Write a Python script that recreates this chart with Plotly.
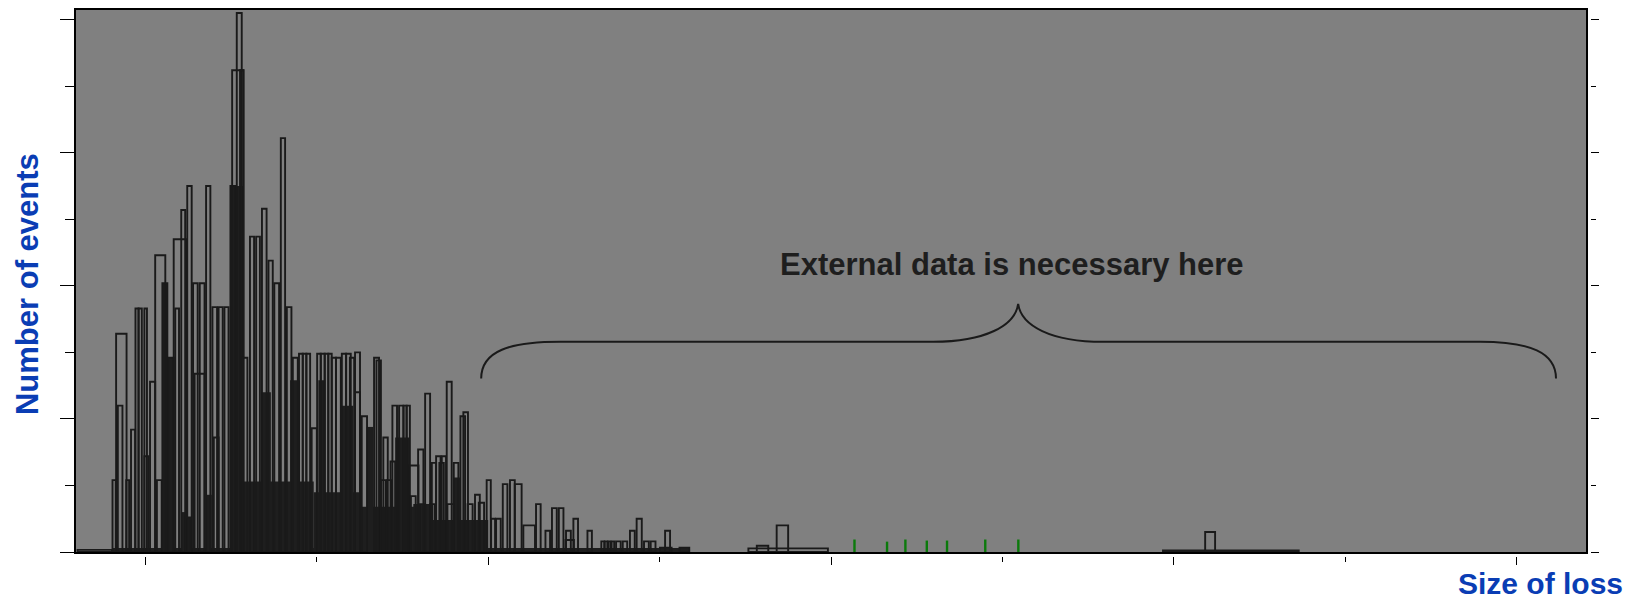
import plotly.graph_objects as go

# ---- data (loss size in arbitrary units, counts of events) ----
outline_left = [-39.6, -19.2, -17.1, -16.1, -11.2, -8.4, -5.8, -4.0, -0.6, -0.6, 2.7, 5.7, 6.7, 9.9,
                13.4, 16.5, 17.4, 20.9, 24.4, 23.2, 27.8, 31.7, 28.7, 35.4, 39.1, 42.7, 46.1, 39.9,
                49.6, 50.6, 53.3, 55.2, 56.7, 61.0, 64.6, 68.0, 71.8, 75.2, 79.0, 82.5, 86.0, 89.6,
                91.8, 93.9, 97.0, 100.2, 102.3, 104.6, 106.7, 108.7, 111.2, 114.6, 117.1, 119.3,
                122.3, 122.3, 126.2, 133.4, 134.8, 137.4, 138.8, 140.9, 143.0, 144.1, 148.0, 150.6,
                152.4, 153.8, 154.9, 159.1, 160.2, 163.2, 166.1, 167.1, 169.6, 171.5, 172.9, 175.8,
                176.2, 179.9, 183.8, 185.5, 188.0, 192.3, 194.5, 199.1, 201.7, 204.6, 208.5, 212.7,
                215.5, 220.5, 227.9, 233.4, 237.2, 241.2, 245.4, 245.1, 249.7, 257.9, 266.0, 268.0,
                270.0, 272.0, 274.6, 278.5, 282.7, 286.6, 290.9, 294.8, 300.2, 303.2, 311.6, 351.8,
                356.7, 368.3, 593.7, 618.3]
outline_right = [-19.5, -17.3, -11.0, -13.4, -9.5, -6.0, -4.0, -2.1, 1.8, 0.9, 5.7, 11.6, 9.5, 12.8,
                 16.5, 23.8, 19.6, 23.2, 27.0, 26.2, 30.5, 34.5, 34.5, 37.9, 41.8, 45.1, 48.5, 42.7,
                 52.4, 57.2, 56.2, 57.2, 59.5, 63.4, 66.8, 70.7, 74.3, 78.0, 81.5, 85.2, 88.9, 91.8,
                 93.9, 96.1, 100.0, 102.3, 104.6, 106.7, 108.7, 111.2, 114.0, 117.1, 119.8, 121.8,
                 125.2, 125.2, 129.3, 136.3, 137.4, 140.2, 141.4, 143.4, 145.7, 146.8, 150.5, 152.4,
                 154.3, 159.3, 157.7, 162.2, 163.2, 166.1, 168.9, 169.6, 172.2, 174.1, 175.4, 178.7,
                 179.9, 182.6, 186.5, 188.2, 190.9, 195.1, 197.6, 201.5, 204.0, 207.3, 211.2, 215.5,
                 219.5, 227.3, 230.6, 236.1, 240.0, 243.9, 248.2, 250.0, 252.4, 260.5, 267.7, 269.5,
                 271.3, 273.5, 277.3, 281.1, 285.5, 289.6, 293.7, 297.6, 307.0, 306.1, 317.3, 398.2,
                 363.4, 375.0, 672.9, 624.1]
outline_count = [0.16, 5.4, 16.4, 11.0, 5.4, 9.2, 18.3, 18.3, 7.2, 18.3, 12.8, 22.3, 5.4, 20.2,
                 14.6, 23.5, 18.3, 25.7, 27.5, 2.6, 20.2, 20.2, 13.4, 27.5, 18.4, 18.4, 18.4, 8.6,
                 27.5, 36.2, 40.5, 36.2, 14.6, 23.7, 23.7, 25.8, 21.9, 20.2, 31.1, 18.4, 14.6, 14.9,
                 14.9, 14.9, 9.3, 14.9, 14.9, 14.9, 14.9, 14.6, 14.6, 14.9, 14.9, 14.6,
                 15.0, 12.0, 10.2, 14.6, 14.4, 5.4, 8.6, 5.4, 6.8, 11.0, 11.0, 11.0,
                 11.0, 6.5, 4.2, 7.7, 3.6, 11.9, 3.6, 6.7, 7.2, 6.7, 7.2, 12.8,
                 3.6, 6.7, 10.2, 10.5, 3.6, 4.3, 3.7, 5.4, 2.5, 2.5, 5.1, 5.4,
                 5.1, 2.0, 3.6, 1.6, 3.3, 3.3, 1.6, 0.9, 2.5, 1.6, 0.8, 0.8,
                 0.8, 0.8, 0.8, 0.8, 1.6, 2.5, 0.8, 0.8, 0.33, 1.6, 0.33, 0.27,
                 0.47, 2.0, 0.12, 1.5]

# overlapping low bars that read as solid dark blocks
dense_left = [-19.5, 54.3, 98.2, 125.6, 159.1, 35.4, 49.4, 67.9, 84.4, 100.9, 113.6,
              129.1, 145.7, 156.3, 179.7, 9.9, 23.2, 13.4, 20.9]
dense_right = [317.7, 98.2, 125.6, 159.1, 200.0, 38.7, 57.3, 73.2, 90.2, 104.9, 121.3,
               132.9, 154.3, 168.0, 183.5, 12.8, 26.2, 16.5, 23.2]
dense_count = [0.3, 5.3, 4.5, 3.4, 2.4, 4.3, 27.5, 12.0, 12.9, 12.9, 11.0,
               9.4, 8.6, 3.6, 5.6, 20.2, 2.6, 14.6, 3.0]

external_loss = [413.7, 432.7, 443.4, 455.9, 467.7, 490.0, 509.3]
external_count = [0.94, 0.78, 0.94, 0.86, 0.86, 0.94, 0.94]

x_range = [-40.5, 840.5]
y_range = [0, 40.73]

FONT = "Liberation Sans, Arial, sans-serif"
BLUE = "#0a3db4"


def centers(lefts, rights):
    return [(a + b) / 2 for a, b in zip(lefts, rights)]


def widths(lefts, rights):
    return [b - a for a, b in zip(lefts, rights)]


fig = go.Figure()
fig.add_trace(go.Bar(x=centers(dense_left, dense_right), y=dense_count,
                     width=widths(dense_left, dense_right),
                     marker=dict(color="#1e1e1e", line=dict(width=0)), hoverinfo="skip"))
fig.add_trace(go.Bar(x=centers(outline_left, outline_right), y=outline_count,
                     width=widths(outline_left, outline_right),
                     marker=dict(color="rgba(0,0,0,0)", line=dict(color="#1a1a1a", width=1.9))))
# external data marks, drawn on the overlay axes that carry the detached ticks
fig.add_trace(go.Bar(x=external_loss, y=external_count, width=1.4, xaxis="x2", yaxis="y2",
                     marker=dict(color="#0b7a0b", line=dict(width=0))))

# curly brace (annotation drawn in data coordinates)
brace = ("M 195.9,13.03 C 195.9,15.13 212.8,15.8 241.9,15.8 L 459.6,15.8 "
         "C 489.9,15.8 507.4,17.0 509.2,18.65 C 511.0,17.0 528.3,15.8 558.8,15.8 "
         "L 778.7,15.8 C 807.9,15.8 823.0,14.98 823.0,13.03")
fig.add_shape(type="path", path=brace, xref="x", yref="y",
              line=dict(color="#1a1a1a", width=2))

fig.update_layout(
    width=1639, height=600,
    margin=dict(l=76, r=49, t=8, b=44),
    paper_bgcolor="white", plot_bgcolor="#808080",
    barmode="overlay", showlegend=False,
    font=dict(family=FONT),
    xaxis=dict(domain=[0, 1510 / 1514], range=x_range, showline=True, mirror=True,
               linecolor="black", linewidth=1.5, ticks="", showticklabels=False,
               showgrid=False, zeroline=False),
    yaxis=dict(domain=[4 / 548, 1], range=y_range, showline=True, mirror=True,
               linecolor="black", linewidth=1.5, ticks="outside", ticklen=14,
               tickcolor="black", tickwidth=1, tick0=0, dtick=10,
               minor=dict(ticks="outside", dtick=5, ticklen=9, tickcolor="black", tickwidth=1),
               showticklabels=False, showgrid=False, zeroline=False),
    xaxis2=dict(overlaying="x", anchor="free", position=0, domain=[0, 1510 / 1514],
                range=x_range, ticks="outside", ticklen=8, tickcolor="black", tickwidth=1,
                tick0=0, dtick=200,
                minor=dict(ticks="outside", dtick=100, ticklen=5, tickcolor="black", tickwidth=1),
                showline=False, showticklabels=False, showgrid=False, zeroline=False),
    yaxis2=dict(overlaying="y", anchor="free", position=1, side="right", range=y_range,
                domain=[4 / 548, 1],
                ticks="outside", ticklen=8, tickcolor="black", tickwidth=1, tick0=0, dtick=10,
                minor=dict(ticks="outside", dtick=5, ticklen=5, tickcolor="black", tickwidth=1),
                showline=False, showticklabels=False, showgrid=False, zeroline=False),
    annotations=[
        dict(text="<b>Number of events</b>", xref="paper", yref="paper", x=-0.0324, y=0.498,
             textangle=-90, showarrow=False, xanchor="center", yanchor="middle",
             font=dict(size=31, color=BLUE, family=FONT)),
        dict(text="<b>Size of loss</b>", xref="paper", yref="paper", x=0.9676, y=-0.051,
             showarrow=False, xanchor="center", yanchor="middle",
             font=dict(size=30, color=BLUE, family=FONT)),
        dict(text="<b>External data is necessary here</b>", xref="x", yref="y", x=505.7, y=21.6,
             showarrow=False, xanchor="center", yanchor="middle",
             font=dict(size=31, color="#1e1e1e", family=FONT)),
    ],
)

fig.write_html("out.html", config={"displayModeBar": False},
               post_script="document.body.style.margin='0px';document.body.style.overflow='hidden';")
